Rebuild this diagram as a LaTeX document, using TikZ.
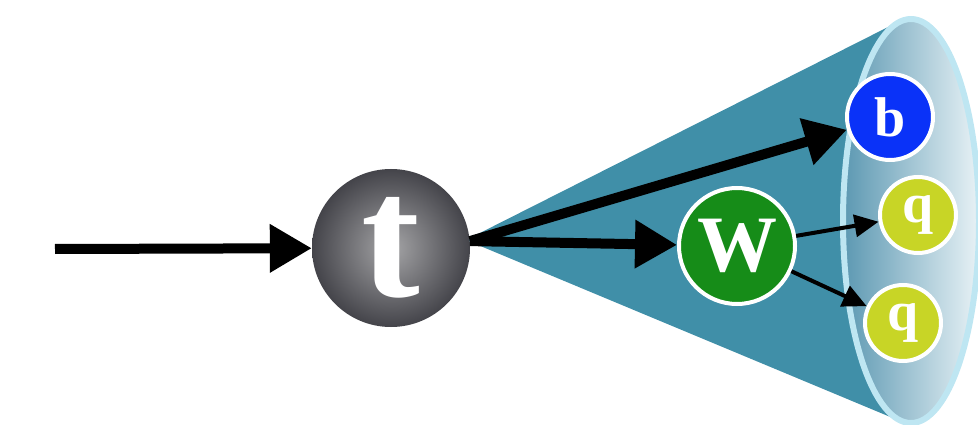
\documentclass[tikz,border=0pt]{standalone}
\usepackage{fontspec}
\setmainfont{Liberation Serif}
\usetikzlibrary{arrows.meta}
\definecolor{conec}{RGB}{64,143,168}
\definecolor{ellL}{RGB}{92,152,178}
\definecolor{ellB}{RGB}{190,230,242}
\definecolor{ellR}{RGB}{232,242,246}
\definecolor{tin}{RGB}{165,165,167}
\definecolor{tout}{RGB}{68,68,74}
\definecolor{wgreen}{RGB}{22,140,24}
\definecolor{bblue}{RGB}{10,50,248}
\definecolor{qyel}{RGB}{200,213,38}
\tikzset{
  ball/.style={circle, inner sep=0pt, draw=white, line width=4pt, text=white},
  bigarrow/.style={line width=10pt, -{Triangle[length=42pt,width=46pt]}},
  smallarrow/.style={line width=4pt, -{Triangle[length=24pt,width=22pt]}},
}
\begin{document}
\begin{tikzpicture}[x=1pt,y=-1pt]
\useasboundingbox (0,0) rectangle (978,425);
% cone
\fill[conec] (466,240) -- (898,22) -- (900,421) -- cycle;
% ellipse
\path[draw=ellB, line width=6pt, left color=ellL, right color=ellR] (911,221) ellipse [x radius=68pt, y radius=202pt];
% nodes
\node[circle, inner sep=0pt, minimum size=158pt, inner color=tin, outer color=tout, shading=radial, text=white] (t) at (391,248) {\fontsize{176}{176}\selectfont\bfseries t};
\node[ball, fill=wgreen, minimum size=116pt] (w) at (737,246) {\fontsize{80}{80}\selectfont\bfseries W};
\node[ball, fill=bblue, minimum size=86pt] (b) at (890,117) {\fontsize{56}{56}\selectfont\bfseries b};
\node[ball, fill=qyel, minimum size=76pt] (q1) at (918,215) {\fontsize{56}{56}\selectfont\bfseries q};
\node[ball, fill=qyel, minimum size=76pt] (q2) at (903,323) {\fontsize{56}{56}\selectfont\bfseries q};
\coordinate (s) at (55,249);
% connectors
\draw[bigarrow] (s) -- (t);
\draw[bigarrow] (t.5) -- (b);
\draw[bigarrow] (t.5) -- (w);
\draw[smallarrow] (w) -- (q1);
\draw[smallarrow] (w) -- (q2);
\end{tikzpicture}
\end{document}
